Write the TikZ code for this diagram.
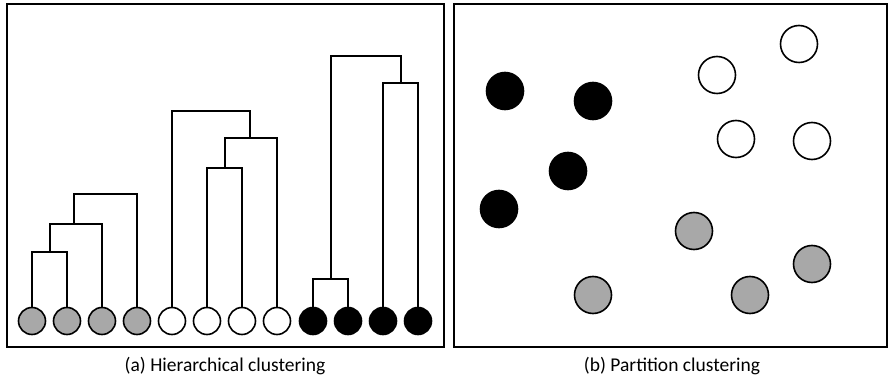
\documentclass[tikz,border=0pt]{standalone}
\usepackage{fontspec}
\setmainfont{Carlito}
\usetikzlibrary{positioning}
\definecolor{leafgray}{RGB}{168,168,168}

\begin{document}
\begin{tikzpicture}[x=1pt, y=-1pt,
  leaf/.style={circle, draw, line width=1.6pt, minimum size=27pt, inner sep=0pt},
  dot/.style={circle, draw, line width=1.6pt, minimum size=37pt, inner sep=0pt},
  link/.style={line width=1.3pt},
  frame/.style={line width=2.4pt},
  every node/.style={font=\fontsize{19.5}{23}\selectfont}]
\useasboundingbox (0,0) rectangle (889,379);
% the two panels
\draw[frame] (7,4) rectangle (444,347);
\draw[frame] (454,4) rectangle (887,347);
% leaves of the dendrogram
\foreach \i/\x in {1/32, 2/67, 3/102, 4/137} \node[leaf, fill=leafgray] (g\i) at (\x,321) {};
\foreach \i/\x in {1/172, 2/207, 3/242, 4/277} \node[leaf, fill=white] (w\i) at (\x,321) {};
\foreach \i/\x in {1/313, 2/348, 3/383, 4/418} \node[leaf, fill=black] (b\i) at (\x,321) {};
% merge points
\coordinate (ga) at (50,252);
\coordinate (gb) at (74,224);
\coordinate (gc) at (105,194);
\coordinate (wa) at (225,168);
\coordinate (wb) at (250,138);
\coordinate (wc) at (210,111);
\coordinate (ba) at (331,279);
\coordinate (bb) at (401,83);
\coordinate (bc) at (366,56);
% gray branch
\draw[link] (g1.north) |- (ga) -| (g2.north);
\draw[link] (ga) |- (gb) -| (g3.north);
\draw[link] (gb) |- (gc) -| (g4.north);
% white branch
\draw[link] (w2.north) |- (wa) -| (w3.north);
\draw[link] (wa) |- (wb) -| (w4.north);
\draw[link] (w1.north) |- (wc) -| (wb);
% black branch
\draw[link] (b1.north) |- (ba) -| (b2.north);
\draw[link] (b3.north) |- (bb) -| (b4.north);
\draw[link] (ba) |- (bc) -| (bb);
% points of the partition
\node[dot, fill=black] (pb1) at (505,91) {};
\node[dot, fill=black] (pb2) at (593,101) {};
\node[dot, fill=black] (pb3) at (568,171) {};
\node[dot, fill=black] (pb4) at (499,209) {};
\node[dot, fill=white] (pw1) at (717,75) {};
\node[dot, fill=white] (pw2) at (799,44) {};
\node[dot, fill=white] (pw3) at (736,139) {};
\node[dot, fill=white] (pw4) at (812,141) {};
\node[dot, fill=leafgray] (pg1) at (694,231) {};
\node[dot, fill=leafgray] (pg2) at (593,295) {};
\node[dot, fill=leafgray] (pg3) at (750,295) {};
\node[dot, fill=leafgray] (pg4) at (812,264) {};
% captions
\node (capa) at (225,366) {(a) Hierarchical clustering};
\node (capb) at (672,366) {(b) Partition clustering};
\end{tikzpicture}
\end{document}
